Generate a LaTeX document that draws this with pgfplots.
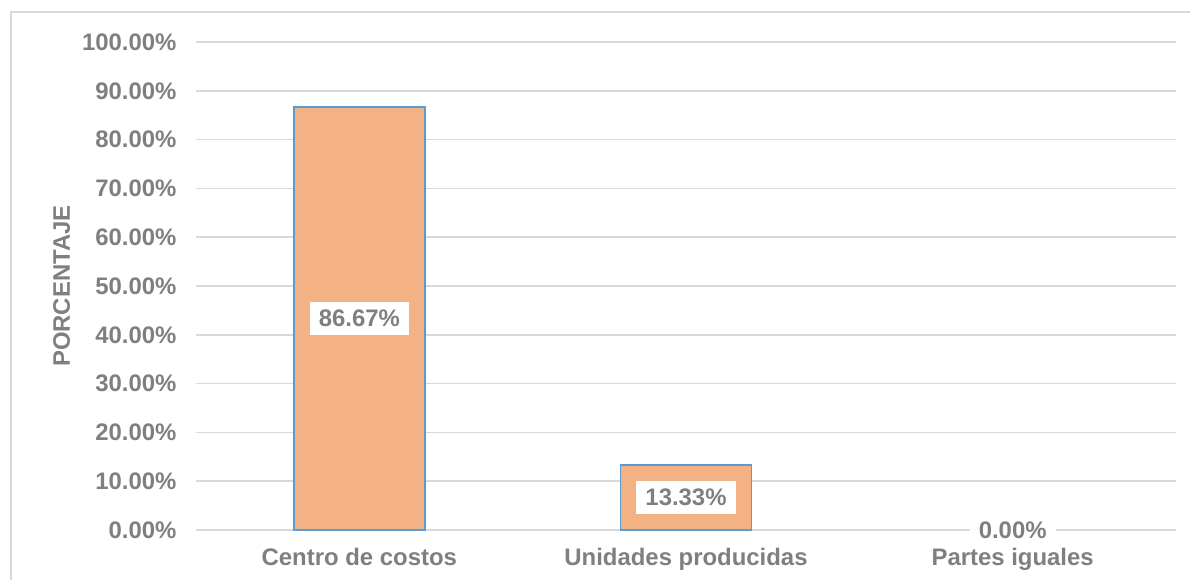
\documentclass[border=0pt]{standalone}
\usepackage{pgfplots}
\pgfplotsset{compat=1.18}
\usepackage{fontspec}
\setmainfont{Liberation Sans}
\definecolor{txtgray}{HTML}{7F7F7F}
\definecolor{gridgray}{HTML}{D9D9D9}
\definecolor{barfill}{HTML}{F4B183}
\definecolor{barline}{HTML}{5B9BD5}
\begin{document}
\begin{tikzpicture}
\useasboundingbox (0,0) rectangle (1190bp,580bp);
\draw[gridgray, line width=1.5bp] (11bp,-1bp) -- (11bp,568bp) -- (1191bp,568bp);
\begin{axis}[
  at={(196bp,50bp)}, anchor=south west,
  scale only axis, width=980bp, height=488bp,
  xmin=-0.5, xmax=2.5, ymin=0, ymax=100,
  xtick={0,1,2},
  xticklabels={Centro de costos, Unidades producidas, Partes iguales},
  ytick={0,10,...,100},
  yticklabels={0.00\%,10.00\%,20.00\%,30.00\%,40.00\%,50.00\%,60.00\%,70.00\%,80.00\%,90.00\%,100.00\%},
  axis y line*=left, axis x line*=bottom,
  y axis line style={draw=none},
  x axis line style={gridgray, line width=1.5bp},
  major tick length=0pt,
  ymajorgrids, grid style={gridgray, line width=1.5bp},
  font=\fontsize{24}{28}\selectfont\bfseries,
  tick label style={txtgray},
  yticklabel style={xshift=-16bp},
  xticklabel style={yshift=-15bp},
  ylabel={PORCENTAJE},
  every axis y label/.style={at={(axis description cs:-0.137,0.5)}, rotate=90, anchor=center, txtgray},
  clip=false,
]
\addplot[ybar, bar width=131bp, fill=barfill, draw=barline, line width=1.5bp]
  coordinates {(0,86.67) (1,13.33)};
\addplot[draw=none, mark=none, nodes near coords, point meta=explicit symbolic,
  every node near coord/.append style={anchor=center, fill=white, text=txtgray, inner xsep=9bp, inner ysep=8bp}]
  coordinates {(0,43.335)[86.67\%] (1,6.665)[13.33\%] (2,0)[0.00\%]};
\end{axis}
\end{tikzpicture}
\end{document}
